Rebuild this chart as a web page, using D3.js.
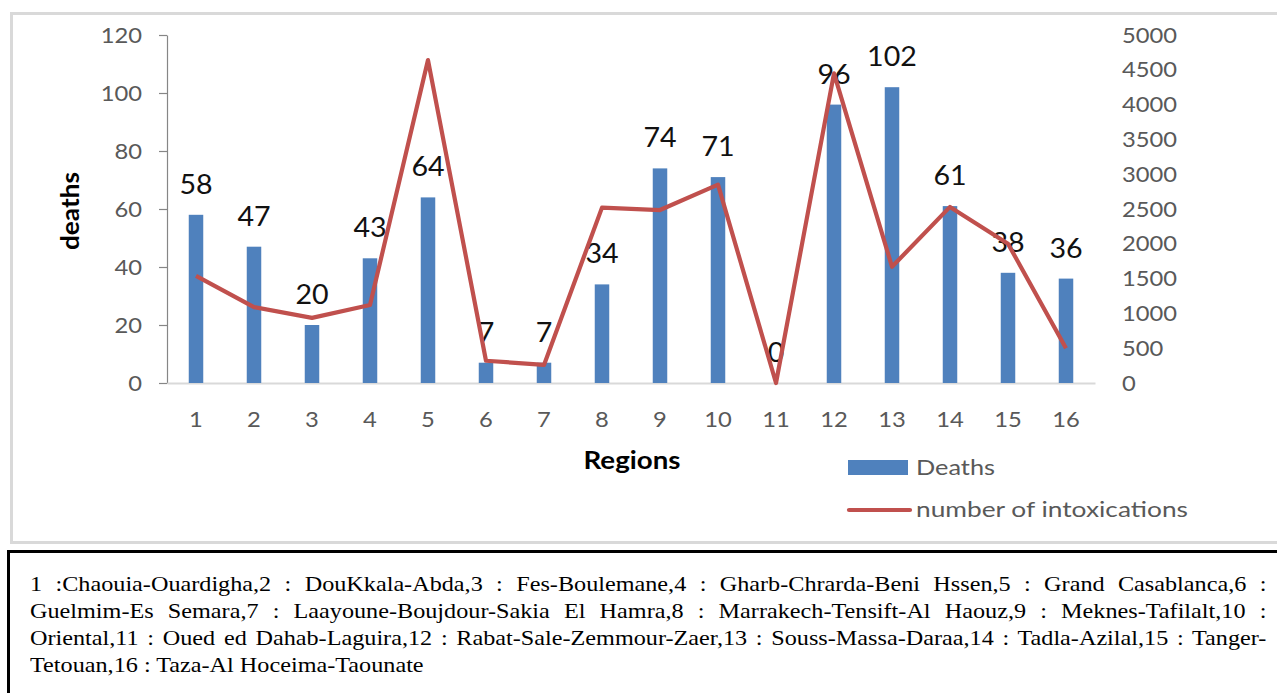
<!DOCTYPE html>
<html>
<head>
<meta charset="utf-8">
<script src="https://cdn.jsdelivr.net/npm/d3@7"></script>
<style>
  html, body { margin: 0; padding: 0; background: #fff; overflow: hidden; }
  #wrap { position: relative; width: 1277px; height: 693px; }
  svg { position: absolute; left: 0; top: 0; }
  #caption {
    position: absolute; left: 7px; top: 550px; width: 1300px; height: 200px;
    border: 3px solid #000; box-sizing: border-box;
  }
  #caption .ln {
    position: absolute; left: 20px; width: 1124px;
    font-family: "Liberation Serif", "Times New Roman", serif; font-size: 22px;
    line-height: 27px; color: #000; white-space: nowrap;
    transform: scaleX(1.1); transform-origin: 0 0;
  }
  #caption .ln.j { text-align: justify; text-align-last: justify; white-space: normal; }
</style>
</head>
<body>
<div id="wrap">
  <svg id="chart" width="1277" height="693"></svg>
  <div id="caption"></div>
</div>
<script>
// ---- data ----
const regions = ["1","2","3","4","5","6","7","8","9","10","11","12","13","14","15","16"];
const deaths = [58, 47, 20, 43, 64, 7, 7, 34, 74, 71, 0, 96, 102, 61, 38, 36];
const intoxications = [1540, 1090, 935, 1120, 4640, 320, 260, 2520, 2485, 2850, 0, 4450, 1670, 2530, 2000, 500];
const leftTicks = [0, 20, 40, 60, 80, 100, 120];
const rightTicks = [0, 500, 1000, 1500, 2000, 2500, 3000, 3500, 4000, 4500, 5000];
const seriesNames = ["Deaths", "number of intoxications"];
const yTitle = "deaths";
const xTitle = "Regions";
const captionLines = [
  "1 :Chaouia-Ouardigha,2 :  DouKkala-Abda,3 :  Fes-Boulemane,4 :  Gharb-Chrarda-Beni  Hssen,5 :  Grand  Casablanca,6 :",
  "Guelmim-Es  Semara,7 :  Laayoune-Boujdour-Sakia  El  Hamra,8 :  Marrakech-Tensift-Al  Haouz,9 :  Meknes-Tafilalt,10 :",
  "Oriental,11 : Oued ed Dahab-Laguira,12 : Rabat-Sale-Zemmour-Zaer,13 : Souss-Massa-Daraa,14 : Tadla-Azilal,15 : Tanger-",
  "Tetouan,16 : Taza-Al Hoceima-Taounate"
];

// ---- layout ----
const FONT = "Lato, 'Open Sans', sans-serif";
const plot = { left: 167, right: 1095, top: 35, bottom: 383 };
const blue = "#4f81bd", red = "#c0504d", gray = "#595959";

const svg = d3.select("#chart");

// outer chart border
svg.append("rect")
  .attr("x", 11.5).attr("y", 13.5).attr("width", 1300).attr("height", 529)
  .attr("fill", "none").attr("stroke", "#d9d9d9").attr("stroke-width", 3);

const x = d3.scaleBand().domain(regions).range([plot.left, plot.right]).padding(0);
const yL = d3.scaleLinear().domain([0, 120]).range([plot.bottom, plot.top]);
const yR = d3.scaleLinear().domain([0, 5000]).range([plot.bottom, plot.top]);

function stretch(sel, k) {
  sel.each(function () {
    const t = d3.select(this);
    const w = this.getComputedTextLength();
    t.attr("textLength", w * k).attr("lengthAdjust", "spacingAndGlyphs");
  });
}

// left axis
const gL = svg.append("g").attr("transform", `translate(${plot.left},0)`)
  .call(d3.axisLeft(yL).tickValues(leftTicks).tickSize(8).tickPadding(17).tickSizeOuter(0));
gL.select(".domain").attr("stroke", "#868686").attr("stroke-width", 1.2);
gL.selectAll(".tick line").attr("stroke", "#868686").attr("stroke-width", 1.2);
gL.selectAll("text").attr("font-family", FONT).attr("font-size", 22).attr("fill", gray);
stretch(gL.selectAll("text"), 1.08);

// right axis
const gR = svg.append("g").attr("transform", `translate(${plot.right + 2},0)`)
  .call(d3.axisRight(yR).tickValues(rightTicks).tickFormat(d3.format("d")).tickSize(0).tickPadding(25));
gR.select(".domain").remove();
gR.selectAll("text").attr("font-family", FONT).attr("font-size", 22).attr("fill", gray);
stretch(gR.selectAll("text"), 1.08);

// bottom axis
const gB = svg.append("g").attr("transform", `translate(0,${plot.bottom})`)
  .call(d3.axisBottom(x).tickSize(0).tickPadding(28));
gB.select(".domain").attr("stroke", "#d9d9d9").attr("stroke-width", 2);
gB.selectAll("text").attr("font-family", FONT).attr("font-size", 22).attr("fill", gray);
stretch(gB.selectAll("text"), 1.08);

// bars
const bw = 14.5;
svg.append("g").selectAll("rect").data(deaths).join("rect")
  .attr("x", (d, i) => x(regions[i]) + x.bandwidth() / 2 - bw / 2)
  .attr("y", d => yL(d))
  .attr("width", bw)
  .attr("height", d => yL(0) - yL(d))
  .attr("fill", blue);

// data labels
const dl = svg.append("g").selectAll("text").data(deaths).join("text")
  .attr("x", (d, i) => x(regions[i]) + x.bandwidth() / 2)
  .attr("y", d => yL(d) - 21)
  .attr("text-anchor", "middle")
  .attr("font-family", FONT).attr("font-size", 26).attr("fill", "#111")
  .text(d => d);
stretch(dl, 1.1);

// line
const line = d3.line()
  .x((d, i) => x(regions[i]) + x.bandwidth() / 2)
  .y(d => yR(d));
svg.append("path").datum(intoxications)
  .attr("d", line).attr("fill", "none")
  .attr("stroke", red).attr("stroke-width", 4.2).attr("stroke-linejoin", "round");

// axis titles
svg.append("text")
  .attr("transform", "translate(79,211) rotate(-90)")
  .attr("text-anchor", "middle")
  .attr("font-family", FONT).attr("font-weight", "bold").attr("font-size", 24).attr("fill", "#000")
  .attr("textLength", 78).attr("lengthAdjust", "spacingAndGlyphs")
  .text(yTitle);
svg.append("text")
  .attr("x", 632).attr("y", 469)
  .attr("text-anchor", "middle")
  .attr("font-family", FONT).attr("font-weight", "bold").attr("font-size", 24).attr("fill", "#000")
  .attr("textLength", 97).attr("lengthAdjust", "spacingAndGlyphs")
  .text(xTitle);

// legend
const lg = svg.append("g");
lg.append("rect").attr("x", 848).attr("y", 460).attr("width", 60).attr("height", 15).attr("fill", blue);
lg.append("text").attr("x", 916).attr("y", 475)
  .attr("font-family", FONT).attr("font-size", 22).attr("fill", gray)
  .attr("textLength", 79).attr("lengthAdjust", "spacingAndGlyphs").text(seriesNames[0]);
lg.append("line").attr("x1", 849).attr("x2", 910).attr("y1", 510).attr("y2", 510)
  .attr("stroke", red).attr("stroke-width", 4.2).attr("stroke-linecap", "round");
lg.append("text").attr("x", 916).attr("y", 517)
  .attr("font-family", FONT).attr("font-size", 22).attr("fill", gray)
  .attr("textLength", 272).attr("lengthAdjust", "spacingAndGlyphs").text(seriesNames[1]);

// caption
const cap = d3.select("#caption");
captionLines.forEach((t, i) => {
  cap.append("div")
    .attr("class", "ln" + (i < captionLines.length - 1 ? " j" : ""))
    .style("top", (17 + i * 27) + "px")
    .text(t);
});
</script>
</body>
</html>
